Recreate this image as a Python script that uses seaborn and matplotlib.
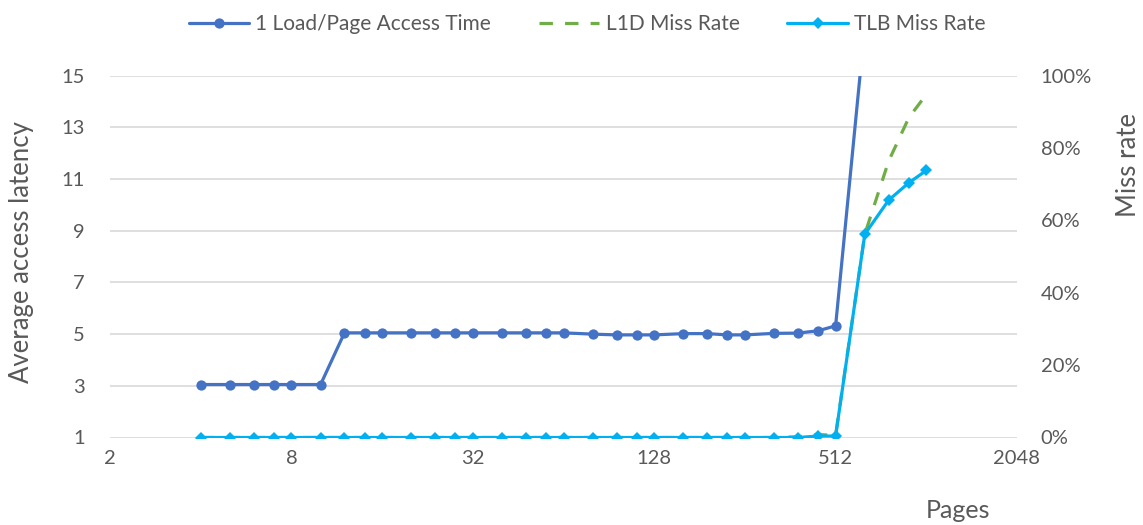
import numpy as np
import pandas as pd
import matplotlib
matplotlib.use("Agg")
import matplotlib.pyplot as plt
from matplotlib.ticker import FixedLocator, FixedFormatter, NullLocator, PercentFormatter
import seaborn as sns

# ---------------- data ----------------
pages = [4, 5, 6, 7, 8, 10, 12, 14, 16, 20, 24, 28, 32, 40, 48, 56, 64,
         80, 96, 112, 128, 160, 192, 224, 256, 320, 384, 448, 512,
         640, 768, 896, 1024]
load_time = [3.05, 3.05, 3.05, 3.05, 3.05, 3.05,
             5.05, 5.05, 5.05, 5.05, 5.05, 5.05, 5.05, 5.05, 5.05, 5.05, 5.05,
             5.00, 4.97, 4.97, 4.97, 5.02, 5.02, 4.97, 4.97, 5.03, 5.04, 5.13, 5.32,
             16.9, np.nan, np.nan, np.nan]
l1d_miss = [0.0, 0.0, 0.0, 0.0, 0.0, 0.0, 0.0, 0.0, 0.0, 0.0, 0.0, 0.0, 0.0,
            0.0, 0.0, 0.0, 0.0, 0.0, 0.0, 0.0, 0.0, 0.0, 0.0, 0.0, 0.0, 0.0,
            0.002, 0.008, 0.006, 0.562, 0.764, 0.884, 0.948]
tlb_miss = [0.0, 0.0, 0.0, 0.0, 0.0, 0.0, 0.0, 0.0, 0.0, 0.0, 0.0, 0.0, 0.0,
            0.0, 0.0, 0.0, 0.0, 0.0, 0.0, 0.0, 0.0, 0.0, 0.0, 0.0, 0.0, 0.0,
            0.0, 0.004, 0.004, 0.562, 0.656, 0.704, 0.738]
series_names = ["1 Load/Page Access Time", "L1D Miss Rate", "TLB Miss Rate"]
x_ticks = [2, 8, 32, 128, 512, 2048]
x_tick_labels = ["2", "8", "32", "128", "512", "2048"]
left_ticks = [1, 3, 5, 7, 9, 11, 13, 15]
right_ticks = [0.0, 0.2, 0.4, 0.6, 0.8, 1.0]

df = pd.DataFrame({"pages": pages, "load": load_time,
                   "l1d": l1d_miss, "tlb": tlb_miss})

# ---------------- style ----------------
sns.set_theme(style="white")
plt.rcParams["font.family"] = ["Lato", "DejaVu Sans"]
TXT = "#595959"
C_LOAD = "#4472C4"
C_L1D = "#70AD47"
C_TLB = "#00B0F0"
GRID = "#D9D9D9"

fig = plt.figure(figsize=(11.43, 5.25), dpi=100)
ax = fig.add_axes([110 / 1143, 1 - 437.5 / 525, 907 / 1143, 361.8 / 525])
ax2 = ax.twinx()

sns.lineplot(data=df, x="pages", y="load", ax=ax, color=C_LOAD, linewidth=2.3,
             marker="o", markersize=7.4, markeredgewidth=0,
             label=series_names[0], legend=False)
sns.lineplot(data=df, x="pages", y="l1d", ax=ax2, color=C_L1D, linewidth=2.3,
             label=series_names[1], legend=False)
ax2.lines[-1].set_linestyle((0, (4.2, 3.8)))
sns.lineplot(data=df, x="pages", y="tlb", ax=ax2, color=C_TLB, linewidth=2.3,
             marker="D", markersize=6.6, markeredgewidth=0,
             label=series_names[2], legend=False)

for a in (ax, ax2):
    a.set_xscale("log", base=2)
    a.set_xlim(2, 2048)
    for s in a.spines.values():
        s.set_visible(False)
    a.set_xlabel("")
    a.set_ylabel("")

ax.xaxis.set_major_locator(FixedLocator(x_ticks))
ax.xaxis.set_major_formatter(FixedFormatter(x_tick_labels))
ax.xaxis.set_minor_locator(NullLocator())
ax.set_ylim(1, 15)
ax.set_yticks(left_ticks)
ax.grid(axis="y", color=GRID, linewidth=1.2)
ax.grid(axis="x", visible=False)
ax.set_axisbelow(True)

ax2.set_ylim(0, 1)
ax2.set_yticks(right_ticks)
ax2.yaxis.set_major_formatter(PercentFormatter(1.0, decimals=0))
ax2.grid(False)

ax.tick_params(axis="x", length=0, pad=9, labelsize=14.5, labelcolor=TXT)
ax.tick_params(axis="y", length=0, pad=18, labelsize=14.5, labelcolor=TXT)
ax2.tick_params(axis="y", length=0, pad=17, labelsize=14.5, labelcolor=TXT)

fig.text(22 / 1143, 1 - 252 / 525, "Average access latency", rotation=90,
         ha="center", va="center", fontsize=18.5, color=TXT)
fig.text(1129 / 1143, 1 - 165 / 525, "Miss rate", rotation=90,
         ha="center", va="center", fontsize=18.5, color=TXT)
fig.text(958 / 1143, 1 - 511 / 525, "Pages", ha="center", va="center",
         fontsize=18, color=TXT)

handles = ax.get_lines()[:1] + ax2.get_lines()[:2]
leg = fig.legend(handles, series_names, loc="center", ncol=3,
                 bbox_to_anchor=(587 / 1143, 1 - 24 / 525), frameon=False,
                 fontsize=15, handlelength=2.9, handletextpad=0.3,
                 columnspacing=2.3)
for t in leg.get_texts():
    t.set_color(TXT)

fig.savefig("out.png", dpi=100)
